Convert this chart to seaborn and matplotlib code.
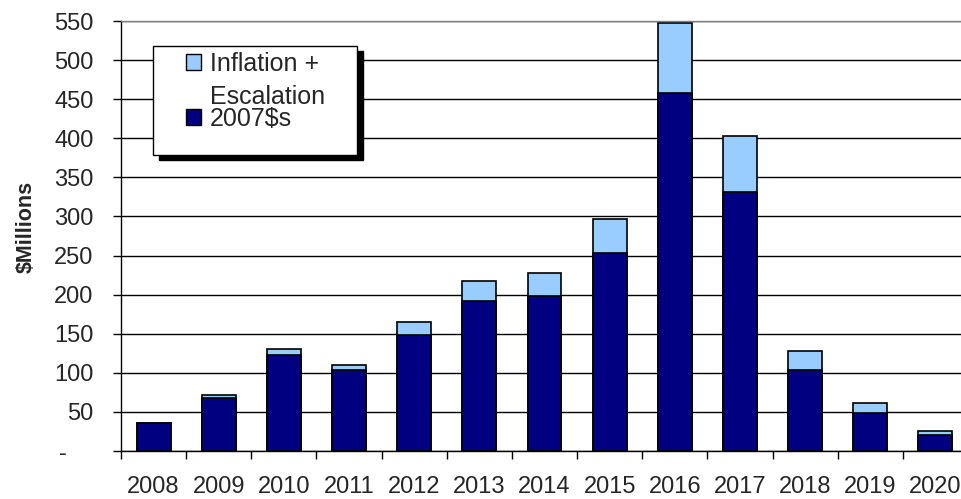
import matplotlib
matplotlib.use("Agg")
import matplotlib.pyplot as plt
import seaborn as sb
import pandas as pd
import numpy as np
from matplotlib.patches import Patch, Rectangle
from matplotlib.transforms import Affine2D

# values ($ millions)
years = ['2008', '2009', '2010', '2011', '2012', '2013', '2014',
         '2015', '2016', '2017', '2018', '2019', '2020']
base_2007 = [36, 68, 123, 103, 149, 192, 198, 253, 458, 331, 103, 49, 20]
inflation = [0, 4, 8, 7, 16, 26, 30, 44, 90, 72, 25, 12, 5]
y_ticks = [0, 50, 100, 150, 200, 250, 300, 350, 400, 450, 500, 550]
y_labels = ['-    '] + [str(v) for v in y_ticks[1:]]

navy = '#000080'
light = '#99CCFF'

sb.set_style('white')
plt.rcParams['font.family'] = ['Liberation Sans', 'DejaVu Sans']

df = pd.DataFrame({'year': years, 'base': base_2007, 'infl': inflation})
df['total'] = df['base'] + df['infl']

W, H = 961, 499
fig = plt.figure(figsize=(W / 100, H / 100), dpi=100)
ax = fig.add_axes([121 / W, 48 / H, 847 / W, 430 / H])

sb.barplot(data=df, x='year', y='total', color=light, saturation=1, width=0.52,
           edgecolor='black', linewidth=1.2, errorbar=None, ax=ax)
sb.barplot(data=df, x='year', y='base', color=navy, saturation=1, width=0.52,
           edgecolor='black', linewidth=1.2, errorbar=None, ax=ax)

ax.set_xlim(-0.5, len(years) - 0.5)
ax.set_ylim(0, 550)
ax.set_yticks(y_ticks)
ax.set_yticklabels(y_labels)
ax.set_xlabel('')
ax.set_ylabel('$Millions', fontsize=15.5, fontweight='bold')
ax.yaxis.set_label_coords(-0.1, 0.52)

ax.grid(axis='y', color='black', linewidth=1)
ax.set_axisbelow(True)

ax.tick_params(axis='y', which='major', length=5.8, width=1, color='black',
               direction='out', left=True, labelsize=17, pad=14)
ax.tick_params(axis='x', which='major', length=0, labelsize=17, pad=18)
ax.set_xticks(np.arange(-0.5, len(years), 1.0), minor=True)
ax.tick_params(axis='x', which='minor', length=5.8, width=1, color='black',
               direction='out', bottom=True)

for side in ['left', 'bottom']:
    ax.spines[side].set_color('black')
    ax.spines[side].set_linewidth(1)
ax.spines['top'].set_color('#808080')
ax.spines['top'].set_linewidth(1)
ax.spines['right'].set_visible(False)

# legend box with hard shadow, like the spreadsheet original
shadow = Rectangle((159 / W, 1 - 160 / H), 204 / W, 109 / H, transform=fig.transFigure,
                   facecolor='black', edgecolor='black', clip_on=False, zorder=4.8)
frame = Rectangle((153 / W, 1 - 155 / H), 204 / W, 109 / H, transform=fig.transFigure,
                  facecolor='white', edgecolor='black', linewidth=1, clip_on=False, zorder=4.9)
ax.add_patch(shadow)
ax.add_patch(frame)

handles = [Patch(facecolor=light, edgecolor='black', linewidth=1),
           Patch(facecolor='none', edgecolor='none'),
           Patch(facecolor=navy, edgecolor='black', linewidth=1)]
labels = ['Inflation +', 'Escalation', '2007$s']
leg = ax.legend(handles, labels, loc='upper left', bbox_to_anchor=(186 / W, 1 - 52 / H),
                bbox_transform=fig.transFigure, frameon=False, fontsize=18,
                borderpad=0, borderaxespad=0, handlelength=0.6, handleheight=0.6,
                handletextpad=0.36, labelspacing=0.14)
# second line of the first label sits a bit lower in the original
t = leg.get_texts()[1]
t.set_transform(t.get_transform() + Affine2D().translate(0, -5))

fig.savefig('out.png', dpi=100)
